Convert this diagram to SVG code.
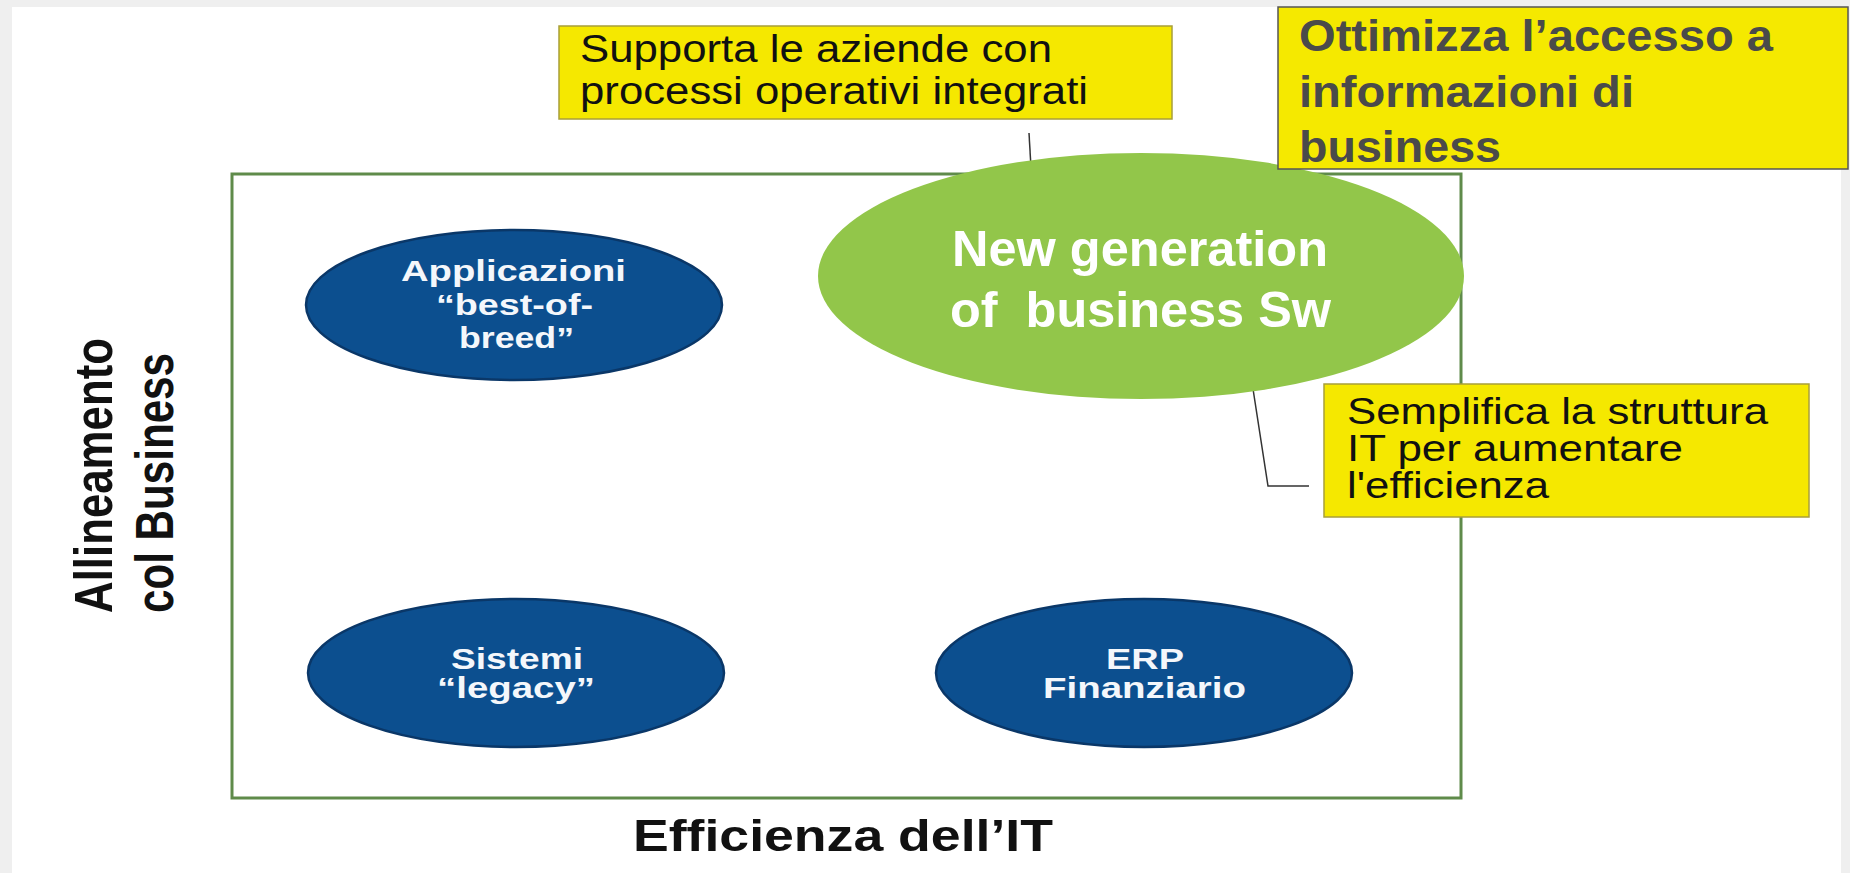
<svg xmlns="http://www.w3.org/2000/svg" width="1850" height="873" viewBox="0 0 1850 873">
  <style>
    .lbl { font-family: "Liberation Sans", Arial, sans-serif; }
    .callout { fill: #f5e800; stroke: #a89f3a; stroke-width: 1.5; }
    .callout-text { font-family: "Liberation Sans", Arial, sans-serif; font-size: 38px; fill: #111; }
    .blue { fill: #0c4f8f; stroke: #0a3768; stroke-width: 2.5; }
    .blue-text { font-family: "Liberation Sans", Arial, sans-serif; font-size: 29px; font-weight: bold; fill: #f4f7fb; }
    .axis { font-family: "Liberation Sans", Arial, sans-serif; font-weight: bold; fill: #111; }
    .conn { fill: none; stroke: #333; stroke-width: 1.5; }
  </style>

  <rect x="0" y="0" width="1850" height="873" fill="#efefef"/>
  <rect x="12" y="7" width="1829" height="866" fill="#ffffff"/>

  <g id="frame">
    <rect x="232" y="174" width="1229" height="624" fill="none" stroke="#5f8b4a" stroke-width="3"/>
  </g>

  <g id="node-applicazioni">
    <ellipse class="blue" cx="514" cy="305" rx="208" ry="75"/>
    <text class="blue-text" x="401" y="281" textLength="225" lengthAdjust="spacingAndGlyphs">Applicazioni</text>
    <text class="blue-text" x="436" y="315" textLength="157" lengthAdjust="spacingAndGlyphs">“best-of-</text>
    <text class="blue-text" x="459" y="348" textLength="115" lengthAdjust="spacingAndGlyphs">breed”</text>
  </g>

  <g id="node-sistemi">
    <ellipse class="blue" cx="516" cy="673" rx="208" ry="74"/>
    <text class="blue-text" x="451" y="669" textLength="132" lengthAdjust="spacingAndGlyphs">Sistemi</text>
    <text class="blue-text" x="437" y="698" textLength="158" lengthAdjust="spacingAndGlyphs">“legacy”</text>
  </g>

  <g id="node-erp">
    <ellipse class="blue" cx="1144" cy="673" rx="208" ry="74"/>
    <text class="blue-text" x="1106" y="669" textLength="78" lengthAdjust="spacingAndGlyphs">ERP</text>
    <text class="blue-text" x="1043" y="698" textLength="203" lengthAdjust="spacingAndGlyphs">Finanziario</text>
  </g>

  <g id="connectors">
    <path class="conn" d="M1029,133 L1032,185"/>
    <path class="conn" d="M1247,350 L1268,486 L1309,486"/>
  </g>

  <g id="node-newgen">
    <ellipse cx="1141" cy="276" rx="323" ry="123" fill="#92c64a"/>
    <text class="lbl" x="952" y="266" font-size="50" font-weight="bold" fill="#ffffff" textLength="376" lengthAdjust="spacingAndGlyphs">New generation</text>
    <text class="lbl" x="950" y="327" font-size="50" font-weight="bold" fill="#ffffff" textLength="381" lengthAdjust="spacingAndGlyphs" style="white-space:pre">of  business Sw</text>
  </g>

  <g id="node-supporta">
    <rect class="callout" x="559" y="26" width="613" height="93"/>
    <text class="callout-text" x="580" y="62" textLength="472" lengthAdjust="spacingAndGlyphs">Supporta le aziende con</text>
    <text class="callout-text" x="580" y="104" textLength="508" lengthAdjust="spacingAndGlyphs">processi operativi integrati</text>
  </g>

  <g id="node-semplifica">
    <rect class="callout" x="1324" y="384" width="485" height="133"/>
    <text class="callout-text" x="1347" y="424" textLength="421" lengthAdjust="spacingAndGlyphs" style="font-size:37px">Semplifica la struttura</text>
    <text class="callout-text" x="1347" y="461" textLength="336" lengthAdjust="spacingAndGlyphs" style="font-size:37px">IT per aumentare</text>
    <text class="callout-text" x="1347" y="498" textLength="202" lengthAdjust="spacingAndGlyphs" style="font-size:37px">l'efficienza</text>
  </g>

  <g id="node-ottimizza">
    <rect x="1278" y="7" width="570" height="162" fill="#f5e900" stroke="#555555" stroke-width="1.5"/>
    <text class="lbl" x="1299" y="51" font-size="45" font-weight="bold" fill="#4a4a4a" textLength="474" lengthAdjust="spacingAndGlyphs">Ottimizza l’accesso a</text>
    <text class="lbl" x="1299" y="107" font-size="45" font-weight="bold" fill="#4a4a4a" textLength="335" lengthAdjust="spacingAndGlyphs">informazioni di</text>
    <text class="lbl" x="1299" y="162" font-size="45" font-weight="bold" fill="#4a4a4a" textLength="202" lengthAdjust="spacingAndGlyphs">business</text>
  </g>

  <g id="axis-x">
    <text class="axis" x="633" y="851" font-size="44" textLength="420" lengthAdjust="spacingAndGlyphs">Efficienza dell’IT</text>
  </g>

  <g id="axis-y">
    <text class="axis" transform="translate(112,613) rotate(-90)" x="0" y="0" font-size="53" textLength="275" lengthAdjust="spacingAndGlyphs">Allineamento</text>
    <text class="axis" transform="translate(173,613) rotate(-90)" x="0" y="0" font-size="53" textLength="260" lengthAdjust="spacingAndGlyphs">col Business</text>
  </g>
</svg>
